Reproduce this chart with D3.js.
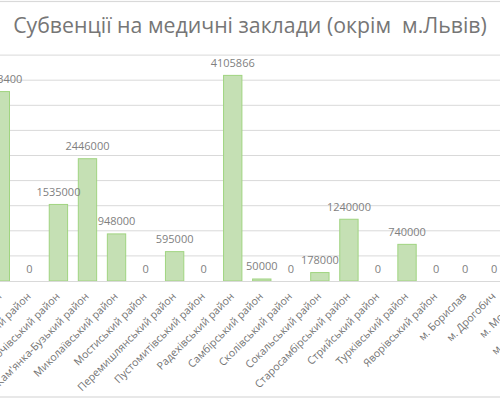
<!DOCTYPE html>
<html><head><meta charset="utf-8">
<script src="https://cdn.jsdelivr.net/npm/d3@7"></script>
<style>body{margin:0;background:#fff;overflow:hidden} svg{display:block}</style>
</head><body><svg id="c" width="500" height="400"></svg>
<script>
const title = "Субвенції на медичні заклади (окрім  м.Львів)";
const categories = ["Жидачівський район","Жовківський район","Золочівський район","Кам'янка-Бузький район",
  "Миколаївський район","Мостиський район","Перемишлянський район","Пустомитівський район",
  "Радехівський район","Самбірський район","Сколівський район","Сокальський район",
  "Старосамбірський район","Стрийський район","Турківський район","Яворівський район",
  "м. Борислав","м. Дрогобич","м. Моршин","м. Новий Розділ"];
const values = [3783400,0,1535000,2446000,948000,0,595000,0,4105866,50000,0,178000,1240000,0,740000,0,0,0,0,0];
const yTicks = [0,500000,1000000,1500000,2000000,2500000,3000000,3500000,4000000,4500000];

const svg = d3.select("#c");
const font = "'Open Sans', sans-serif";
svg.append("rect").attr("x",-10).attr("y",1.5).attr("width",520).attr("height",395.5)
  .attr("fill","#fff").attr("stroke","#d9d9d9").attr("stroke-width",1.2);

const x = d3.scaleBand().domain(categories)
  .range([-14.2, -14.2 + categories.length * 29.05])
  .paddingInner(0.334).paddingOuter(0.167);
const y = d3.scaleLinear().domain([0, 4500000]).range([281, 55.1]);

svg.append("g").selectAll("line").data(yTicks.slice(1)).join("line")
  .attr("x1",-10).attr("x2",510)
  .attr("y1",d=>y(d)).attr("y2",d=>y(d))
  .attr("stroke","#d9d9d9").attr("stroke-width",1);

svg.append("g").selectAll("rect").data(categories).join("rect")
  .attr("x",d=>x(d)+0.5).attr("width",x.bandwidth()-1)
  .attr("y",(d,i)=>y(values[i])+0.5).attr("height",(d,i)=>Math.max(0,y(0)-y(values[i])-0.5))
  .attr("fill","#c5e0b4").attr("stroke","#a0d480").attr("stroke-width",1);

const ax = svg.append("g").attr("transform","translate(0,281)")
  .call(d3.axisBottom(x).tickSize(0));
ax.select(".domain").attr("stroke","#d9d9d9").attr("stroke-width",1.2);
ax.selectAll("text")
  .attr("x",0).attr("y",0).attr("dy",0)
  .attr("text-anchor","end")
  .attr("transform","translate(2,16) rotate(-45)")
  .attr("font-family",font).attr("font-size",10.6).attr("fill","#737373");

svg.append("g").selectAll("text").data(categories).join("text")
  .attr("x",d=>x(d)+x.bandwidth()/2)
  .attr("y",(d,i)=>y(values[i])-8)
  .attr("text-anchor","middle")
  .attr("font-family",font).attr("font-size",11).attr("fill","#7f7f7f")
  .text((d,i)=>values[i]);

const t = svg.append("text").attr("x",250).attr("y",33).attr("text-anchor","middle")
  .attr("font-family",font).attr("font-size",20).attr("fill","#767676")
  .style("white-space","pre").text(title);
const len = t.node().getComputedTextLength();
t.attr("font-size", 20 * 474 / len);
</script></body></html>
